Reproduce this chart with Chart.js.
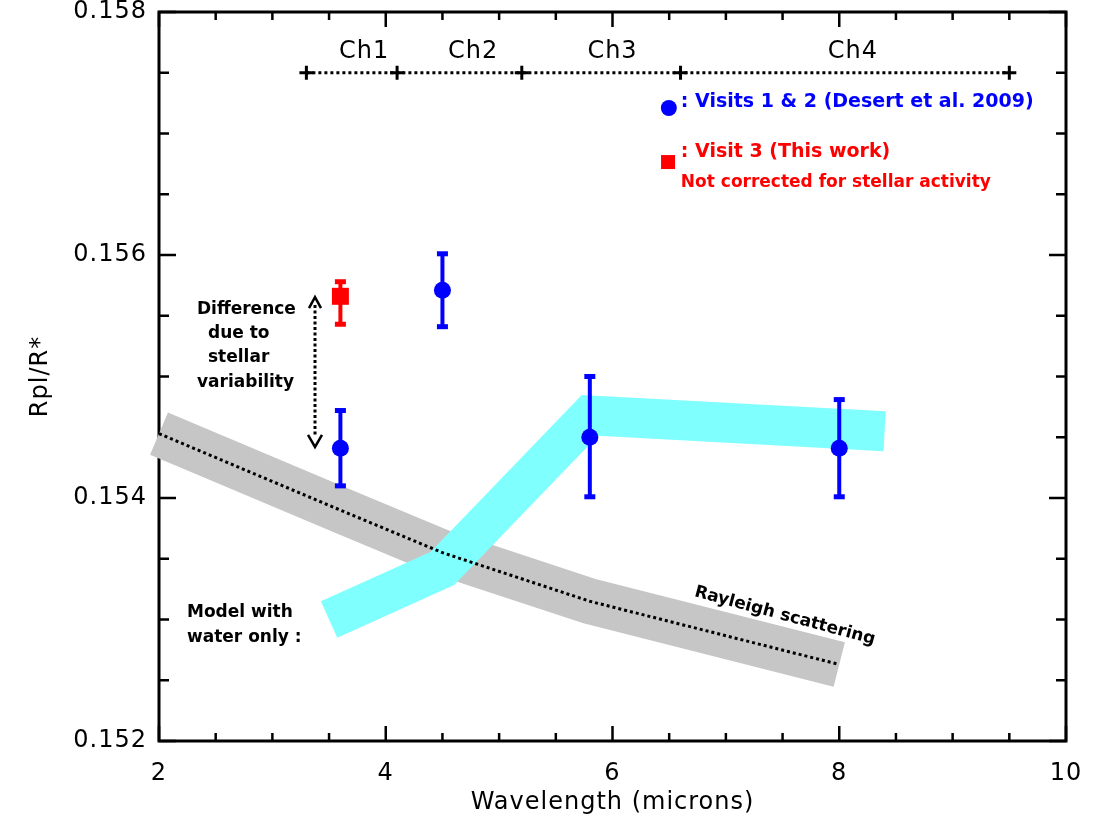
<!DOCTYPE html>
<html>
<head>
<meta charset="utf-8">
<script src="https://cdn.jsdelivr.net/npm/chart.js@4.4.0/dist/chart.umd.min.js"></script>
<style>
html,body{margin:0;padding:0;background:#fff;}
</style>
</head>
<body>
<canvas id="c" width="1101" height="826"></canvas>
<script>
// --- values
const visitWave = [3.6, 4.5, 5.8, 8.0];
const visitRadius = [0.15441, 0.15571, 0.15450, 0.15441];
const visitErrLow = [0.15410, 0.15541, 0.15401, 0.15401];
const visitErrHigh = [0.15472, 0.15601, 0.15500, 0.15481];

const visit3Wave = [3.6];
const visit3Radius = [0.15566];
const visit3ErrLow = [0.15543];
const visit3ErrHigh = [0.15578];

const rayleighWave = [2.0, 3.6, 4.5, 5.8, 8.0];
const rayleighRadius = [0.15453, 0.15390, 0.15355, 0.15315, 0.15263];

const waterWave = [3.5, 4.5, 5.8, 8.4];
const waterRadius = [0.15300, 0.15342, 0.15468, 0.15455];

const channelEdges = [3.3, 4.1, 5.2, 6.6, 9.5];
const channelLevel = 0.1575;
const channelNames = ['Ch1', 'Ch2', 'Ch3', 'Ch4'];
const channelLabelWave = [3.81, 4.77, 6.0, 8.12];
const channelLabelLevel = 0.15767;

const xMajorTicks = [2, 4, 6, 8, 10];
const yMajorTicks = [0.152, 0.154, 0.156, 0.158];
const xMinorStep = 0.5;
const yMinorStep = 0.0005;

const FONT = '"DejaVu Sans", sans-serif';

const pts = (xs, ys) => xs.map((x, i) => ({x, y: ys[i]}));

// --- axes frame + inward ticks on all four sides, plus notes/legend
const axisFrame = {
  id: 'axisFrame',
  beforeDraw(chart){ chart.ctx.letterSpacing = '1px'; },
  beforeDatasetsDraw(chart){
    const {ctx, chartArea: a, scales: {x, y}} = chart;
    ctx.save();
    ctx.strokeStyle = '#000';
    ctx.lineWidth = 3;
    ctx.strokeRect(a.left, a.top, a.right - a.left, a.bottom - a.top);
    ctx.lineWidth = 2.5;
    ctx.beginPath();
    for (let v = x.min; v <= x.max + 1e-9; v += xMinorStep) {
      const p = x.getPixelForValue(v);
      const len = xMajorTicks.some(m => Math.abs(m - v) < 1e-9) ? 15 : 8;
      ctx.moveTo(p, a.bottom); ctx.lineTo(p, a.bottom - len);
      ctx.moveTo(p, a.top); ctx.lineTo(p, a.top + len);
    }
    for (let v = y.min; v <= y.max + 1e-9; v += yMinorStep) {
      const p = y.getPixelForValue(v);
      const len = yMajorTicks.some(m => Math.abs(m - v) < 1e-9) ? 17 : 10;
      ctx.moveTo(a.left, p); ctx.lineTo(a.left + len, p);
      ctx.moveTo(a.right, p); ctx.lineTo(a.right - len, p);
    }
    ctx.stroke();
    ctx.restore();
  },
  afterDatasetsDraw(chart){
    const {ctx, scales: {x, y}} = chart;
    const X = v => x.getPixelForValue(v), Y = v => y.getPixelForValue(v);
    ctx.save();
    ctx.letterSpacing = '0px';

    // error bars
    const bars = (xs, lo, hi, color) => {
      ctx.strokeStyle = color; ctx.fillStyle = color; ctx.lineWidth = 4;
      xs.forEach((w, i) => {
        const px = X(w), top = Y(hi[i]), bot = Y(lo[i]);
        ctx.beginPath(); ctx.moveTo(px, top); ctx.lineTo(px, bot); ctx.stroke();
        ctx.fillRect(px - 5.5, top - 2.5, 11, 5);
        ctx.fillRect(px - 5.5, bot - 2.5, 11, 5);
      });
    };
    bars(visitWave, visitErrLow, visitErrHigh, '#0000ff');
    bars(visit3Wave, visit3ErrLow, visit3ErrHigh, '#ff0000');

    // channel names
    ctx.fillStyle = '#000';
    ctx.font = '24px ' + FONT;
    ctx.textAlign = 'center'; ctx.textBaseline = 'middle';
    ctx.letterSpacing = '1px';
    channelNames.forEach((n, i) => ctx.fillText(n, X(channelLabelWave[i]), Y(channelLabelLevel)));

    // legend
    ctx.letterSpacing = '0px';
    ctx.fillStyle = '#0000ff';
    ctx.beginPath(); ctx.arc(X(6.497), Y(0.15721), 8, 0, Math.PI * 2); ctx.fill();
    ctx.textAlign = 'left';
    ctx.font = 'bold 19px ' + FONT;
    ctx.fillText(': Visits 1 & 2 (Desert et al. 2009)', X(6.603), Y(0.157259));
    ctx.fillStyle = '#ff0000';
    ctx.fillRect(X(6.49) - 7, Y(0.156765) - 7, 14, 14);
    ctx.fillText(': Visit 3 (This work)', X(6.603), Y(0.156848));
    ctx.font = 'bold 17px ' + FONT;
    ctx.fillText('Not corrected for stellar activity', X(6.603), Y(0.156593));

    // notes
    ctx.fillStyle = '#000';
    ctx.font = 'bold 17px ' + FONT;
    ctx.fillText('Difference', X(2.335), Y(0.155547));
    ctx.fillText('due to', X(2.432), Y(0.155350));
    ctx.fillText('stellar', X(2.432), Y(0.155152));
    ctx.fillText('variability', X(2.335), Y(0.154947));
    ctx.fillText('Model with', X(2.247), Y(0.153053));
    ctx.fillText('water only :', X(2.247), Y(0.152848));

    // difference arrow
    const ax = X(3.376);
    ctx.strokeStyle = '#000'; ctx.lineWidth = 3;
    ctx.setLineDash([3, 2.5]);
    ctx.beginPath(); ctx.moveTo(ax, Y(0.155588)); ctx.lineTo(ax, Y(0.154502)); ctx.stroke();
    ctx.setLineDash([]);
    ctx.lineWidth = 2.5;
    const topY = Y(0.155654), botY = Y(0.15442);
    ctx.beginPath();
    ctx.moveTo(ax - 6, topY + 11); ctx.lineTo(ax, topY); ctx.lineTo(ax + 6, topY + 11);
    ctx.moveTo(ax - 7, botY - 12); ctx.lineTo(ax, botY); ctx.lineTo(ax + 7, botY - 12);
    ctx.stroke();

    // rayleigh label
    ctx.save();
    ctx.translate(X(7.52), Y(0.153029));
    ctx.rotate(15 * Math.PI / 180);
    ctx.textAlign = 'center';
    ctx.font = 'bold 17px ' + FONT;
    ctx.fillText('Rayleigh scattering', 0, 0);
    ctx.restore();

    ctx.restore();
  },
  afterDraw(chart){ chart.ctx.letterSpacing = '0px'; }
};

new Chart(document.getElementById('c'), {
  type: 'scatter',
  data: {
    datasets: [
      {label: 'Rayleigh band', type: 'line', data: pts(rayleighWave, rayleighRadius),
       borderColor: '#c6c6c6', borderWidth: 46, pointRadius: 0, tension: 0,
       borderCapStyle: 'butt', borderJoinStyle: 'miter', clip: false, order: 6},
      {label: 'Water only', type: 'line', data: pts(waterWave, waterRadius),
       borderColor: '#80ffff', borderWidth: 40, pointRadius: 0, tension: 0,
       borderCapStyle: 'butt', borderJoinStyle: 'miter', clip: false, order: 5},
      {label: 'Rayleigh', type: 'line', data: pts(rayleighWave, rayleighRadius),
       borderColor: '#000', borderWidth: 3, borderDash: [3, 3], pointRadius: 0, tension: 0, order: 4},
      {label: 'IRAC', type: 'line', data: channelEdges.map(x => ({x, y: channelLevel})),
       borderColor: '#000', borderWidth: 3, borderDash: [3, 3], tension: 0,
       pointStyle: 'cross', pointRadius: 7, pointBorderWidth: 3, pointBorderColor: '#000', clip: false, order: 3},
      {label: 'Visits 1 & 2', data: pts(visitWave, visitRadius),
       pointStyle: 'circle', pointRadius: 8.5, backgroundColor: '#0000ff', borderColor: '#0000ff', borderWidth: 0, order: 2},
      {label: 'Visit 3', data: pts(visit3Wave, visit3Radius),
       pointStyle: 'rect', pointRadius: 12, backgroundColor: '#ff0000', borderColor: '#ff0000', borderWidth: 0, order: 1}
    ]
  },
  options: {
    responsive: false,
    animation: false,
    events: [],
    layout: {padding: {top: 12, right: 35, left: 0, bottom: 0}},
    plugins: {legend: {display: false}, tooltip: {enabled: false}},
    scales: {
      x: {
        type: 'linear', min: 2, max: 10,
        afterBuildTicks: s => { s.ticks = xMajorTicks.map(v => ({value: v})); },
        afterFit: s => { s.height = 85; s.paddingLeft = 0; s.paddingRight = 0; },
        grid: {display: false, drawTicks: false},
        border: {display: false},
        ticks: {color: '#000', padding: 18, font: {family: FONT, size: 24}, callback: v => String(v), maxRotation: 0},
        title: {display: true, text: 'Wavelength (microns)', color: '#000', font: {family: FONT, size: 24}, padding: {top: 0, bottom: 9}}
      },
      y: {
        type: 'linear', min: 0.152, max: 0.158,
        afterBuildTicks: s => { s.ticks = yMajorTicks.map(v => ({value: v})); },
        afterFit: s => { s.width = 159; s.paddingTop = 0; s.paddingBottom = 0; },
        grid: {display: false, drawTicks: false},
        border: {display: false},
        ticks: {color: '#000', padding: 12, font: {family: FONT, size: 24}, callback: v => v.toFixed(3)},
        title: {display: true, text: 'Rpl/R*', color: '#000', font: {family: FONT, size: 24}, padding: {top: 26, bottom: 0}}
      }
    }
  },
  plugins: [axisFrame]
});
</script>
</body>
</html>
